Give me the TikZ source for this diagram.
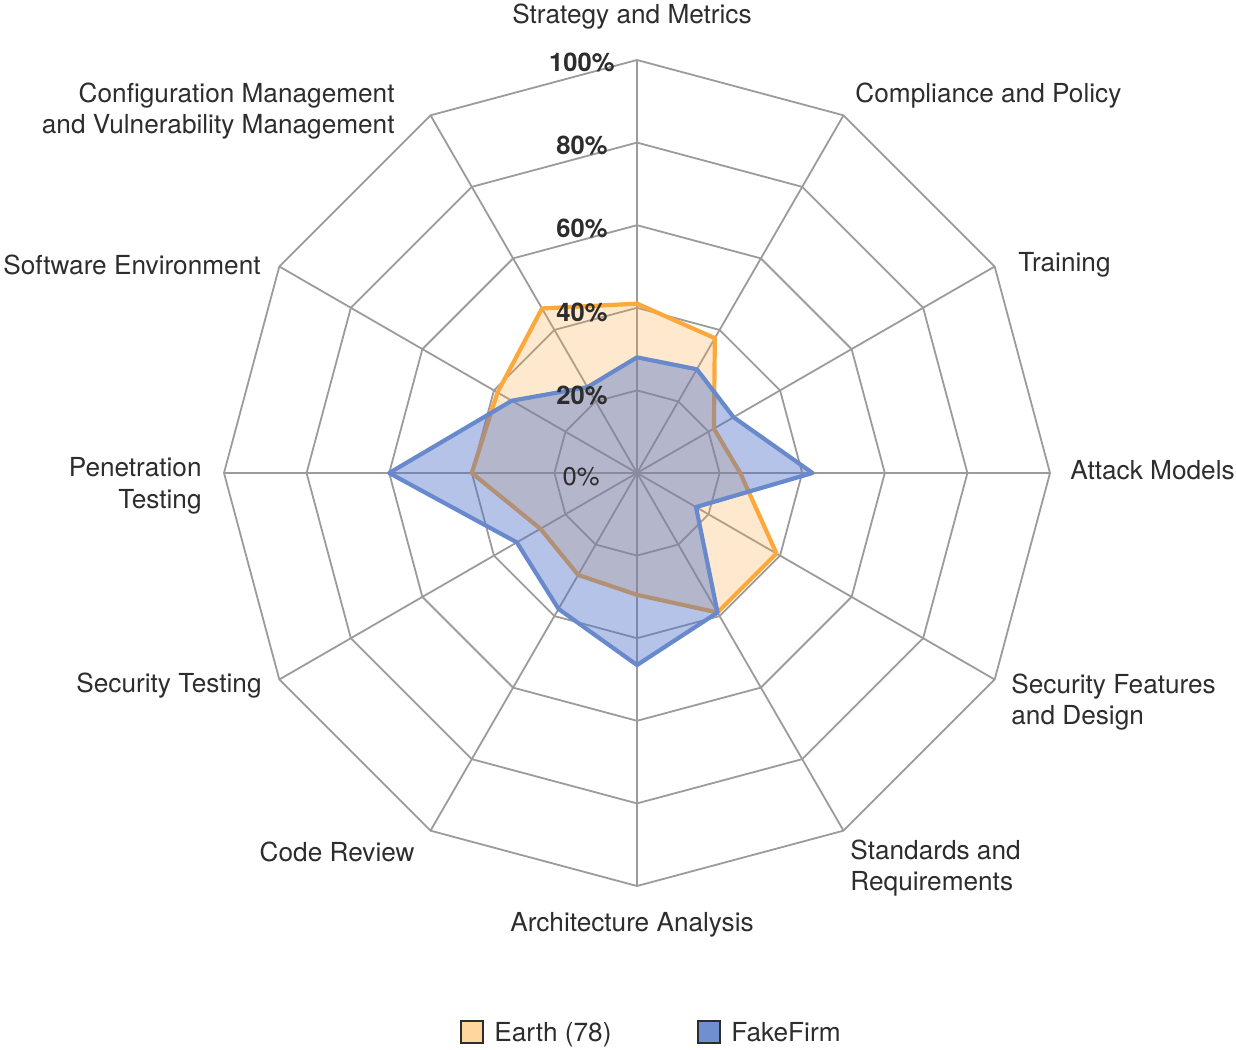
\documentclass[tikz,border=0pt]{standalone}
\usepackage{fontspec}
\setmainfont{TeX Gyre Heros}
\usepackage{tikz}
\usetikzlibrary{positioning,arrows}

\definecolor{gridgray}{RGB}{155,155,155}
\definecolor{earthline}{RGB}{252,168,58}
\definecolor{earthfill}{RGB}{255,168,60}
\definecolor{firmline}{RGB}{104,138,204}
\definecolor{firmfill}{RGB}{78,112,200}
\definecolor{textgray}{RGB}{45,45,45}
\definecolor{earthkey}{RGB}{255,214,158}
\definecolor{firmkey}{RGB}{111,143,208}

\tikzset{
	grid/.style={draw=gridgray, line width=0.9pt},
	series/.style={line width=2.1pt, line join=round},
	cat/.style={font=\fontsize{13.1}{15.7}\selectfont, text=textgray, inner sep=0pt},
	pct/.style={font=\fontsize{12.8}{15}\selectfont\bfseries, text=textgray, inner sep=0pt, anchor=east},
	key/.style={draw=textgray, line width=0.8pt, minimum size=11pt, inner sep=0pt}
}

\begin{document}
\begin{tikzpicture}[x=0.5pt, y=0.5pt]
	\def\R{413}
	\def\earth{60/0.377,30/0.215,0/0.25,-30/0.39,-60/0.39,-90/0.295,-120/0.285,-150/0.27,-180/0.40,-210/0.39,-240/0.46}
	\def\firm{60/0.29,30/0.27,0/0.425,-30/0.165,-60/0.39,-90/0.465,-120/0.38,-150/0.336,-180/0.60,-210/0.35,-240/0.24}
	\useasboundingbox (-637,-576) rectangle (599,473);
	% rings and spokes
	\foreach \r in {0.2,0.4,0.6,0.8,1}
		\draw[grid] (90:{\r*\R}) \foreach \a in {60,30,...,-240} {-- (\a:{\r*\R})} -- cycle;
	\foreach \a in {0,30,...,330}
		\draw[grid] (0,0) -- (\a:\R);
	% Earth
	\fill[earthfill, fill opacity=0.25] (90:{0.41*\R}) \foreach \a/\v in \earth {-- (\a:{\v*\R})} -- cycle;
	\draw[series, earthline] (90:{0.41*\R}) \foreach \a/\v in \earth {-- (\a:{\v*\R})} -- cycle;
	% FakeFirm
	\fill[firmfill, fill opacity=0.42] (90:{0.28*\R}) \foreach \a/\v in \firm {-- (\a:{\v*\R})} -- cycle;
	\draw[series, firmline] (90:{0.28*\R}) \foreach \a/\v in \firm {-- (\a:{\v*\R})} -- cycle;
	% scale
	\node[pct] (P100) at (-22,411) {100\%};
	\node[pct] (P80) at (-29,328) {80\%};
	\node[pct] (P60) at (-29,245) {60\%};
	\node[pct] (P40) at (-29,161) {40\%};
	\node[pct] (P20) at (-29,78) {20\%};
	\node[pct, font=\fontsize{12.8}{15}\selectfont] (P0) at (-37,-4) {0\%};
	% categories
	\begin{scope}[every node/.style={cat}]
		\node (SM) at (-5,456) {Strategy and Metrics};
		\node[anchor=west] (CP) at (218,377) {Compliance and Policy};
		\node[anchor=west] (TR) at (381,208) {Training};
		\node[anchor=west] (AM) at (433,3) {Attack Models};
		\node[anchor=west, align=left] (SF) at (374,-229) {Security Features\\and Design};
		\node[anchor=west, align=left] (SR) at (213,-395) {Standards and\\Requirements};
		\node (AA) at (-5,-452) {Architecture Analysis};
		\node[anchor=east] (CR) at (-222,-379) {Code Review};
		\node[anchor=east] (ST) at (-375,-213) {Security Testing};
		\node[anchor=east, align=right] (PT) at (-435,-13) {Penetration\\Testing};
		\node[anchor=east] (SE) at (-376,208) {Software Environment};
		\node[anchor=east, align=right] (CM) at (-242,362) {Configuration Management\\and Vulnerability Management};
	\end{scope}
	% legend
	\node[key, fill=earthkey] (KE) at (-165,-559) {};
	\node[cat, anchor=base west] (LE) at (-143,-568) {Earth (78)};
	\node[key, fill=firmkey] (KF) at (72,-559) {};
	\node[cat, anchor=base west] (LF) at (94,-568) {FakeFirm};
\end{tikzpicture}
\end{document}
